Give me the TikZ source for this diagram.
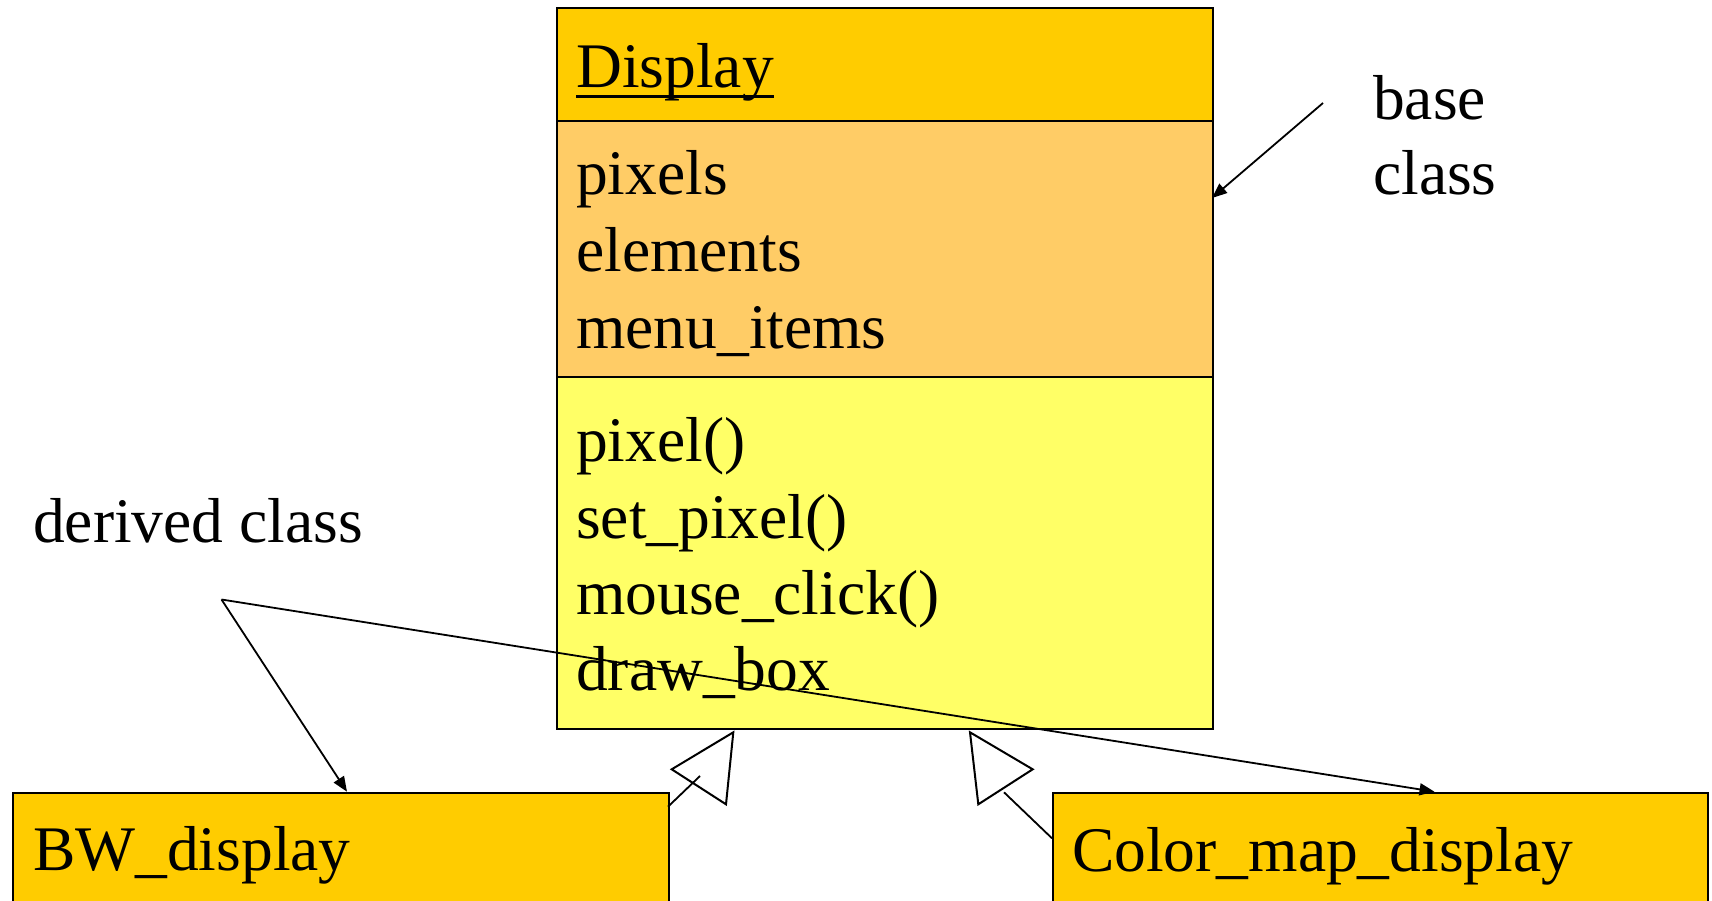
\documentclass[tikz,border=0pt]{standalone}
\usepackage{fontspec}
\setmainfont{Liberation Serif}
\usetikzlibrary{arrows.meta}
\definecolor{goldc}{HTML}{FFCC00}
\definecolor{attrc}{HTML}{FFCC66}
\definecolor{methc}{HTML}{FFFF66}
\begin{document}
\begin{tikzpicture}[x=1pt,y=-1pt,
  compart/.style={draw=black, line width=2pt, anchor=north west, inner sep=0pt, minimum width=656pt},
  txt/.style={anchor=base west, inner sep=0pt, font=\fontsize{63.5pt}{76.5pt}\selectfont},
  conn/.style={line width=1.8pt, -{Triangle[length=15pt,width=12pt]}},
  plainline/.style={line width=1.8pt},
  inh/.style={line width=2pt, line join=miter}]
\useasboundingbox (0,0) rectangle (1712,901);
\clip (0,0) rectangle (1712,901);

% Display class
\node[compart, fill=goldc, minimum height=112.5pt] (head) at (556,7.5) {};
\node[compart, fill=attrc, minimum height=256pt] (attr) at (556,120) {};
\node[compart, fill=methc, minimum height=351.5pt] (meth) at (556,376) {};

\node[txt] (tdisp) at (576,87.5) {Display};
\draw[line width=2.5pt] ([yshift=-9pt]tdisp.base west) -- ([yshift=-9pt]tdisp.base east);

\node[txt] (a1) at (576,195) {pixels};
\node[txt] (a2) at (576,271.7) {elements};
\node[txt] (a3) at (576,348.3) {menu\_items};

\node[txt] (m1) at (576,461.7) {pixel()};
\node[txt] (m2) at (576,538.3) {set\_pixel()};
\node[txt] (m3) at (576,614.5) {mouse\_click()};
\node[txt] (m4) at (576,690.5) {draw\_box};

% derived classes
\node[compart, fill=goldc, minimum height=160pt] (bw) at (12,791.7) {};
\node[compart, fill=goldc, minimum height=160pt, minimum width=655pt] (cm) at (1052,791.7) {};
\node[txt] (tbw) at (33,870.5) {BW\_display};
\node[txt] (tcm) at (1072,871) {Color\_map\_display};

% labels
\node[txt] (lbase) at (1373,120) {base};
\node[txt] (lclass) at (1373,195) {class};
\node[txt] (lder) at (33,542.7) {derived class};

% arrows
\coordinate (bstart) at (1323,103);
\coordinate (btip) at (1212,198);
\draw[conn] (bstart) -- (btip);

\coordinate (dsplit) at (221.5,599.5);
\coordinate (bwtip) at (347,791.7);
\coordinate (cmtip) at (1434.5,791.7);
\draw[conn] (dsplit) -- (bwtip);
\draw[conn] (dsplit) -- (cmtip);

% inheritance triangles
\coordinate (t1a) at (733.3,732.3);
\coordinate (t1b) at (671.7,769.3);
\coordinate (t1c) at (726,804.3);
\draw[inh] (t1a) -- (t1b) -- (t1c) -- cycle;
\coordinate (l1s) at (668,806.7);
\coordinate (l1e) at (700,776);
\draw[plainline] (l1s) -- (l1e);

\coordinate (t2a) at (970,732.3);
\coordinate (t2b) at (1032.7,769.3);
\coordinate (t2c) at (978.3,804.3);
\draw[inh] (t2a) -- (t2b) -- (t2c) -- cycle;
\coordinate (l2s) at (1004,792.3);
\coordinate (l2e) at (1052,838.3);
\draw[plainline] (l2s) -- (l2e);
\end{tikzpicture}
\end{document}
